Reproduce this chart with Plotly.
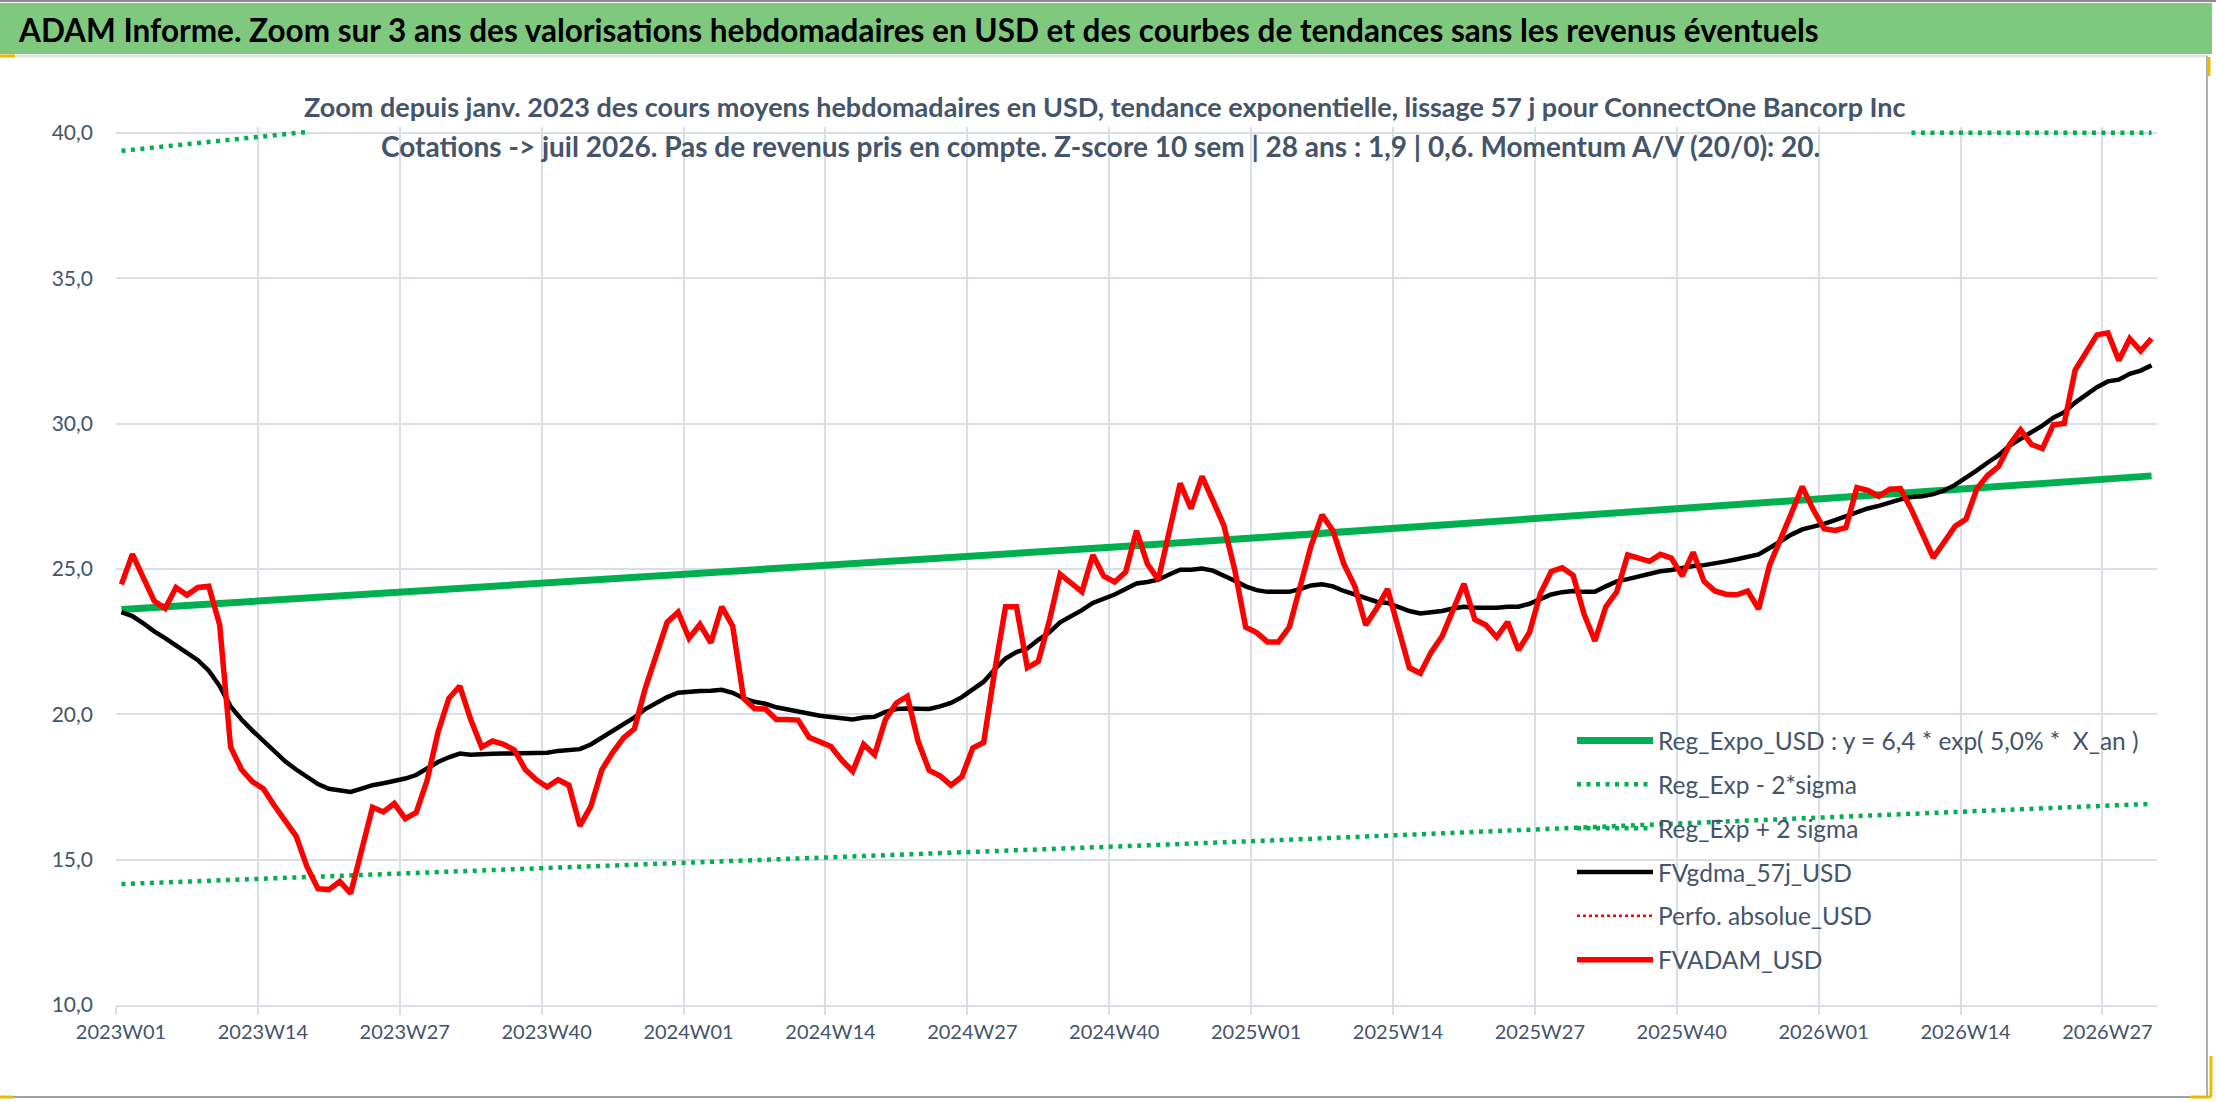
import plotly.graph_objects as go

# ---------------- categories (ISO weeks) ----------------
year_weeks = [(2023, 52), (2024, 52), (2025, 52), (2026, 31)]
weeks = [f"{y}W{w:02d}" for y, n in year_weeks for w in range(1, n + 1)]
tick_labels = weeks[::13]
week_pos = {w: i for i, w in enumerate(weeks)}

# ---------------- series values ----------------
fvadam_usd = [
    24.47, 25.51, 24.70, 23.90, 23.64, 24.36, 24.10, 24.36, 24.40, 23.07,
    18.87, 18.10, 17.68, 17.44, 16.86, 16.32, 15.81, 14.76, 14.00, 13.97,
    14.25, 13.84, 15.37, 16.80, 16.64, 16.93, 16.41, 16.62, 17.72, 19.38,
    20.55, 20.97, 19.82, 18.87, 19.08, 18.97, 18.77, 18.10, 17.75, 17.50,
    17.75, 17.56, 16.16, 16.83, 18.08, 18.68, 19.19, 19.50, 20.90, 22.05,
    23.17, 23.51, 22.62, 23.09, 22.46, 23.70, 23.03, 20.55, 20.20, 20.18,
    19.82, 19.82, 19.80, 19.21, 19.06, 18.89, 18.42, 18.04, 18.97, 18.61,
    19.82, 20.39, 20.62, 19.06, 18.07, 17.88, 17.56, 17.85, 18.84, 19.03,
    21.48, 23.70, 23.70, 21.60, 21.82, 23.19, 24.82, 24.49, 24.21, 25.48,
    24.75, 24.55, 24.89, 26.31, 25.17, 24.63, 26.25, 27.94, 27.07, 28.18,
    27.35, 26.50, 24.97, 23.00, 22.81, 22.49, 22.49, 23.00, 24.40, 25.80,
    26.86, 26.31, 25.17, 24.40, 23.07, 23.64, 24.31, 23.00, 21.60, 21.41,
    22.14, 22.68, 23.64, 24.49, 23.26, 23.07, 22.65, 23.17, 22.21, 22.81,
    24.15, 24.91, 25.04, 24.78, 23.45, 22.52, 23.70, 24.21, 25.48, 25.38,
    25.26, 25.50, 25.37, 24.76, 25.57, 24.57, 24.24, 24.13, 24.11, 24.24,
    23.62, 25.13, 25.99, 26.91, 27.83, 27.04, 26.38, 26.32, 26.42, 27.80,
    27.70, 27.50, 27.74, 27.76, 27.04, 26.16, 25.39, 25.92, 26.47, 26.71,
    27.76, 28.22, 28.53, 29.28, 29.78, 29.28, 29.14, 29.96, 30.00, 31.84,
    32.47, 33.05, 33.12, 32.17, 32.92, 32.50, 32.92,
]

fvgdma_57j_usd = [
    23.51, 23.38, 23.13, 22.85, 22.62, 22.37, 22.11, 21.86, 21.50, 20.97,
    20.27, 19.82, 19.44, 19.08, 18.74, 18.38, 18.10, 17.85, 17.60, 17.44,
    17.40, 17.33, 17.44, 17.56, 17.63, 17.70, 17.79, 17.91, 18.13, 18.36,
    18.52, 18.65, 18.61, 18.61, 18.64, 18.65, 18.65, 18.65, 18.65, 18.68,
    18.74, 18.78, 18.80, 18.96, 19.19, 19.40, 19.63, 19.89, 20.18, 20.39,
    20.59, 20.74, 20.78, 20.80, 20.81, 20.84, 20.74, 20.55, 20.43, 20.36,
    20.24, 20.17, 20.10, 20.01, 19.95, 19.91, 19.85, 19.82, 19.89, 19.91,
    20.08, 20.18, 20.20, 20.18, 20.18, 20.27, 20.39, 20.59, 20.84, 21.12,
    21.54, 21.92, 22.14, 22.26, 22.56, 22.81, 23.16, 23.36, 23.58, 23.83,
    23.96, 24.12, 24.31, 24.50, 24.55, 24.63, 24.81, 24.97, 24.97, 25.01,
    24.94, 24.78, 24.59, 24.40, 24.27, 24.21, 24.21, 24.21, 24.31, 24.43,
    24.47, 24.40, 24.24, 24.11, 23.96, 23.87, 23.83, 23.70, 23.55, 23.47,
    23.51, 23.55, 23.64, 23.70, 23.66, 23.66, 23.66, 23.70, 23.70, 23.80,
    23.96, 24.12, 24.20, 24.24, 24.21, 24.21, 24.40, 24.57, 24.65, 24.75,
    24.84, 24.92, 24.96, 25.04, 25.10, 25.13, 25.18, 25.26, 25.33, 25.43,
    25.50, 25.72, 25.95, 26.18, 26.36, 26.45, 26.55, 26.68, 26.82, 26.97,
    27.08, 27.17, 27.29, 27.39, 27.47, 27.50, 27.57, 27.70, 27.89, 28.12,
    28.39, 28.66, 28.91, 29.24, 29.47, 29.67, 29.93, 30.20, 30.39, 30.72,
    30.99, 31.25, 31.45, 31.51, 31.71, 31.82, 32.00,
]

# regression and bands, read at the labelled weeks (+ last week)
reg_weeks = weeks[::13] + [weeks[-1]]
reg_expo_usd = [23.60, 23.90, 24.20, 24.50, 24.81, 25.12, 25.43, 25.75,
                26.07, 26.40, 26.73, 27.06, 27.40, 27.74, 28.09, 28.20]
reg_minus_2sigma = [14.16, 14.34, 14.52, 14.70, 14.88, 15.07, 15.26, 15.45,
                    15.64, 15.84, 16.04, 16.24, 16.44, 16.65, 16.86, 16.92]
# upper band: only the parts visible inside the 10-40 scale
upper_weeks = [weeks[0], weeks[13], weeks[17], weeks[18],
               weeks[164], weeks[169], weeks[182], weeks[186]]
reg_plus_2sigma = [39.38, 39.87, 40.03, None, 40.0, 40.0, 40.0, 40.0]
perfo_absolue_usd = [None] * len(weeks)

y_ticks = [10, 15, 20, 25, 30, 35, 40]

TITLE = ("ADAM Informe. Zoom sur 3 ans des valorisations hebdomadaires en USD "
         "et des courbes de tendances sans les revenus éventuels")
SUB1 = ("Zoom depuis janv. 2023 des cours moyens hebdomadaires en USD, tendance "
        "exponentielle, lissage 57 j pour ConnectOne Bancorp Inc")
SUB2 = ("Cotations -> juil 2026. Pas de revenus pris en compte. Z-score 10 sem | "
        "28 ans : 1,9 | 0,6. Momentum A/V (20/0): 20.")

# ---------------- geometry ----------------
FW, FH = 2216, 1102
L, R, T, B = 116, 2157, 127, 1005
PW, PH = R - L, B - T
SLOT = PW / len(weeks)


def xp(px):
    return (px - L) / PW


def yp(py):
    return (B - py) / PH


def pos(ws):
    return [week_pos[w] for w in ws]


GREEN = "#00B050"
GRID = "#DADEE5"
TXT = "#44546A"
FONT = "Lato"

fig = go.Figure()

fig.add_trace(go.Scatter(
    x=pos(reg_weeks), y=reg_expo_usd, mode="lines", text=reg_weeks,
    name="Reg_Expo_USD : y = 6,4 * exp( 5,0% *  X_an )",
    line=dict(color=GREEN, width=7), legendgroup="a"))
fig.add_trace(go.Scatter(
    x=pos(reg_weeks), y=reg_minus_2sigma, mode="lines", name="Reg_Exp - 2*sigma",
    text=reg_weeks,
    line=dict(color=GREEN, width=4.5, dash="4px,5.5px"), legendgroup="b"))
fig.add_trace(go.Scatter(
    x=pos(upper_weeks), y=reg_plus_2sigma, mode="lines", name="Reg_Exp + 2 sigma",
    text=upper_weeks,
    line=dict(color=GREEN, width=4.5, dash="4px,5.5px"), legendgroup="c"))
fig.add_trace(go.Scatter(
    x=pos(weeks), y=fvgdma_57j_usd, mode="lines", name="FVgdma_57j_USD",
    text=weeks,
    line=dict(color="#000000", width=4.5), legendgroup="d"))
fig.add_trace(go.Scatter(
    x=pos(weeks), y=perfo_absolue_usd, mode="lines", name="Perfo. absolue_USD",
    text=weeks,
    line=dict(color="#FF0000", width=2.5, dash="3px,3px"), legendgroup="e"))
fig.add_trace(go.Scatter(
    x=pos(weeks), y=fvadam_usd, mode="lines", name="FVADAM_USD",
    text=weeks,
    line=dict(color="#FF0000", width=5.5), legendgroup="f"))

shapes = [
    # green banner
    dict(type="rect", xref="paper", yref="paper", x0=xp(0), x1=xp(2212),
         y0=yp(54), y1=yp(3), fillcolor="#7FC97F", line=dict(width=0), layer="below"),
    # frame lines
    dict(type="line", xref="paper", yref="paper", x0=xp(0), x1=xp(FW),
         y0=yp(1), y1=yp(1), line=dict(color="#8C8C8C", width=2)),
    dict(type="line", xref="paper", yref="paper", x0=xp(0), x1=xp(2208),
         y0=yp(56), y1=yp(56), line=dict(color="#E3E3E3", width=3)),
    dict(type="line", xref="paper", yref="paper", x0=xp(0), x1=xp(2209),
         y0=yp(1097), y1=yp(1097), line=dict(color="#A0A0A0", width=2)),
    dict(type="line", xref="paper", yref="paper", x0=xp(2207), x1=xp(2207),
         y0=yp(56), y1=yp(1097), line=dict(color="#B0B0B0", width=2)),
    # selection handles
    dict(type="line", xref="paper", yref="paper", x0=xp(0), x1=xp(15),
         y0=yp(56), y1=yp(56), line=dict(color="#F2B800", width=3)),
    dict(type="line", xref="paper", yref="paper", x0=xp(2209), x1=xp(2209),
         y0=yp(57), y1=yp(76), line=dict(color="#F2B800", width=3)),
    dict(type="line", xref="paper", yref="paper", x0=xp(2211), x1=xp(2211),
         y0=yp(1056), y1=yp(1097), line=dict(color="#F2B800", width=3)),
    dict(type="line", xref="paper", yref="paper", x0=xp(2190), x1=xp(2211),
         y0=yp(1097), y1=yp(1097), line=dict(color="#F2B800", width=3)),
    dict(type="line", xref="paper", yref="paper", x0=xp(0), x1=xp(13),
         y0=yp(1097), y1=yp(1097), line=dict(color="#F2B800", width=3)),
]

annotations = [
    dict(text=TITLE, xref="paper", yref="paper", x=xp(16), y=yp(30),
         xanchor="left", yanchor="middle", showarrow=False,
         font=dict(family=FONT, size=31.5, color="#000000", weight="bold")),
    dict(text=SUB1, xref="paper", yref="paper", x=xp(1105), y=yp(106),
         xanchor="center", yanchor="middle", showarrow=False,
         font=dict(family=FONT, size=27, color=TXT, weight="bold")),
    dict(text=SUB2, xref="paper", yref="paper", x=xp(1100), y=yp(146),
         xanchor="center", yanchor="middle", showarrow=False,
         font=dict(family=FONT, size=28, color=TXT, weight="bold")),
]

fig.update_layout(
    width=FW, height=FH,
    margin=dict(l=L, r=FW - R, t=T, b=FH - B, pad=0),
    paper_bgcolor="#FFFFFF", plot_bgcolor="#FFFFFF",
    separators=", ",
    font=dict(family=FONT, color=TXT),
    showlegend=True,
    hovermode="closest",
    legend=dict(
        x=xp(1572), y=yp(718), xanchor="left", yanchor="top",
        bgcolor="rgba(0,0,0,0)", borderwidth=0,
        font=dict(family=FONT, size=24.5, color=TXT),
        traceorder="grouped", tracegroupgap=9, itemwidth=76,
    ),
    shapes=shapes,
    annotations=annotations,
)

fig.update_xaxes(
    type="linear",
    range=[-0.5, len(weeks) - 0.5],
    tickmode="array",
    tickvals=[week_pos[w] - 0.5 for w in tick_labels],
    ticktext=tick_labels, tickangle=0, ticklabelshift=round(SLOT / 2),
    ticks="outside", ticklen=8, tickcolor=GRID, tickwidth=2,
    showgrid=True, gridcolor=GRID, gridwidth=2, zeroline=False,
    showline=True, linecolor=GRID, linewidth=2,
    tickfont=dict(family=FONT, size=20, color=TXT),
    fixedrange=True,
)
fig.update_yaxes(
    range=[10, 40.2], tickmode="array", tickvals=y_ticks, tickformat=".1f",
    showgrid=True, gridcolor=GRID, gridwidth=2, zeroline=False,
    ticks="", ticklabelstandoff=22,
    tickfont=dict(family=FONT, size=21, color=TXT),
    fixedrange=True,
)

fig.write_html("out.html", config={"displayModeBar": False},
               post_script="document.body.style.margin='0';document.body.style.overflow='hidden';")
